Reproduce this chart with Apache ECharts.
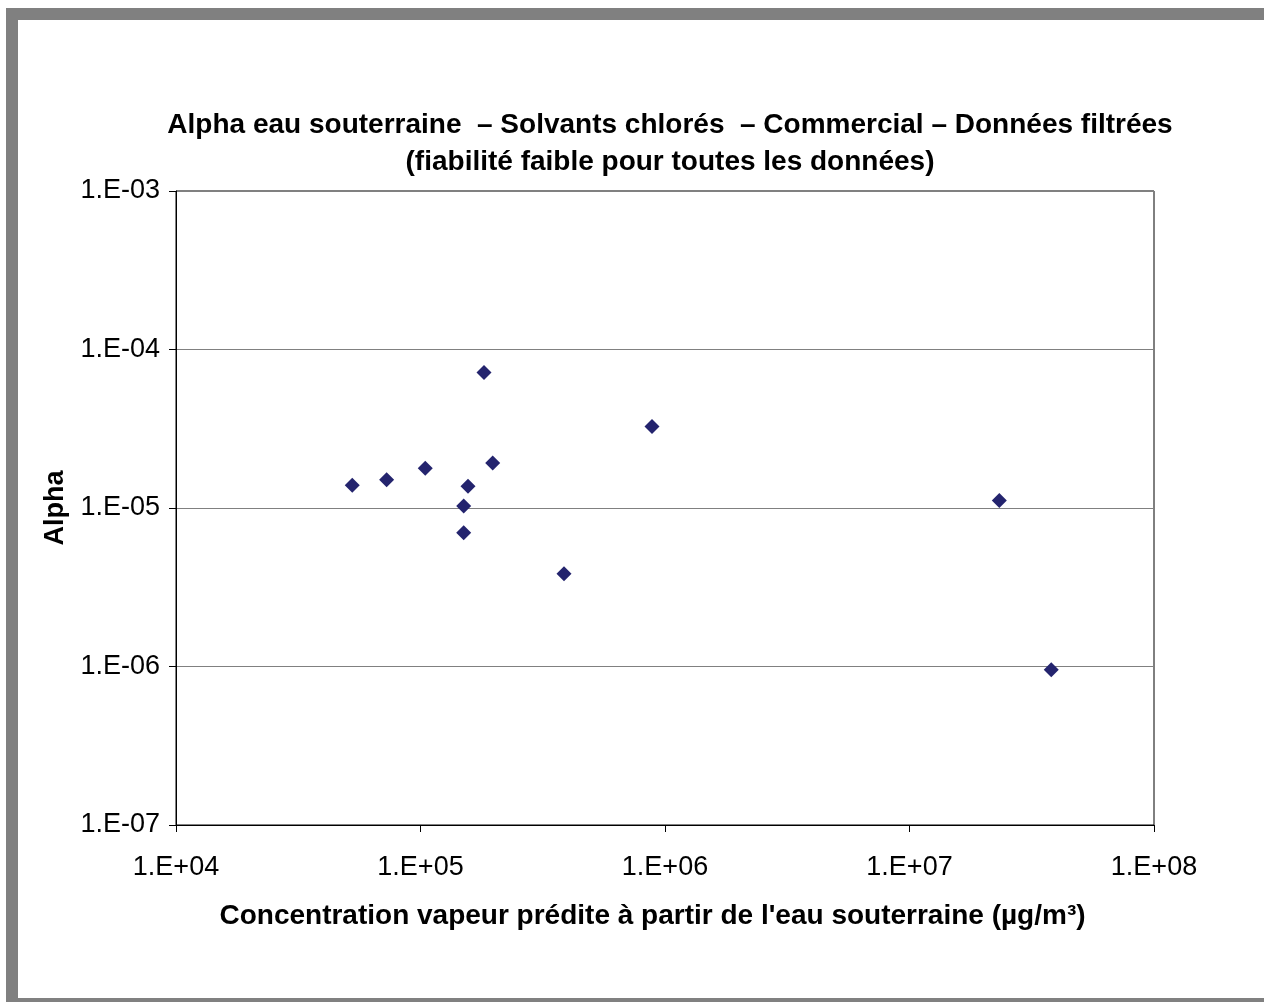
<!DOCTYPE html>
<html>
<head>
<meta charset="utf-8">
<script src="https://cdn.jsdelivr.net/npm/echarts@6/dist/echarts.min.js"></script>
<style>
html,body{margin:0;padding:0;background:#fff;}
#chart{width:1264px;height:1002px;}
</style>
</head>
<body>
<div id="chart"></div>
<script>
var titleLines = ['Alpha eau souterraine  \u2013 Solvants chlorés  \u2013 Commercial \u2013 Données filtrées', '(fiabilité faible pour toutes les données)'];
var xAxisName = "Concentration vapeur prédite à partir de l'eau souterraine (µg/m³)";
var yAxisName = 'Alpha';
var concentration = [52600, 72700, 104600, 150200, 150200, 156400, 181900, 197400, 386400, 884700, 23300000, 38000000];
var alpha = [1.39e-5, 1.51e-5, 1.78e-5, 1.03e-5, 6.98e-6, 1.37e-5, 7.16e-5, 1.92e-5, 3.85e-6, 3.27e-5, 1.115e-5, 9.53e-7];
var xRange = [1e4, 1e8];
var yRange = [1e-7, 1e-3];

function sciLabel(v) {
  var e = Math.round(Math.log10(v));
  var s = e < 0 ? '-' : '+';
  var a = Math.abs(e);
  return '1.E' + s + (a < 10 ? '0' + a : a);
}

var points = concentration.map(function (c, i) { return [c, alpha[i]]; });

var chart = echarts.init(document.getElementById('chart'));
var font = "Arial, 'Liberation Sans', sans-serif";
chart.setOption({
  backgroundColor: '#ffffff',
  animation: false,
  title: {
    text: titleLines.join('\n'),
    left: 665,
    top: 102,
    textAlign: 'center',
    textStyle: { fontFamily: font, fontSize: 28, fontWeight: 'bold', color: '#000', lineHeight: 37 }
  },
  grid: { left: 176, top: 191, right: 110, bottom: 177, show: true, borderColor: '#000', borderWidth: 1, backgroundColor: 'transparent' },
  xAxis: {
    type: 'log', logBase: 10, min: xRange[0], max: xRange[1],
    name: xAxisName, nameLocation: 'middle', nameGap: 77,
    nameTextStyle: { fontFamily: font, fontSize: 28, fontWeight: 'bold', color: '#000', padding: [0, 25, 0, 0] },
    axisLine: { show: true, lineStyle: { color: '#000', width: 1 } },
    axisTick: { show: true, inside: false, length: 7, lineStyle: { color: '#000' } },
    axisLabel: { formatter: sciLabel, fontFamily: font, fontSize: 27, color: '#000', margin: 29 },
    splitLine: { show: false },
    minorTick: { show: false }
  },
  yAxis: {
    type: 'log', logBase: 10, min: yRange[0], max: yRange[1],
    name: yAxisName, nameLocation: 'middle', nameGap: 107, nameRotate: 90,
    nameTextStyle: { fontFamily: font, fontSize: 27, fontWeight: 'bold', color: '#000' },
    axisLine: { show: true, lineStyle: { color: '#000', width: 1 } },
    axisTick: { show: true, inside: false, length: 7, lineStyle: { color: '#000' } },
    axisLabel: { formatter: sciLabel, fontFamily: font, fontSize: 27, color: '#000', margin: 16 },
    splitLine: { show: true, lineStyle: { color: '#808080', width: 1 } }
  },
  graphic: [{
    type: 'rect', silent: true, z: 100,
    shape: { x: 12, y: 14, width: 1270, height: 990 },
    style: { fill: null, stroke: '#808080', lineWidth: 12 }
  }],
  series: [{
    type: 'scatter',
    data: points,
    symbol: 'diamond',
    symbolSize: 15,
    itemStyle: { color: '#24246e', opacity: 1 }
  }]
});
</script>
</body>
</html>
